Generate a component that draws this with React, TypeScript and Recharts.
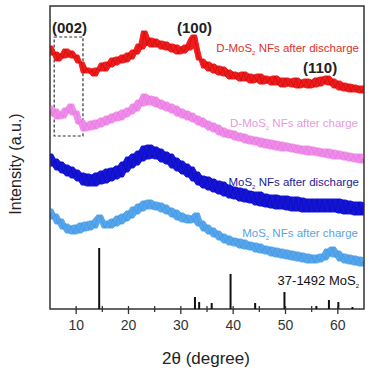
import React from 'react';
import {
  ComposedChart,
  Area,
  Line,
  XAxis,
  YAxis,
  ReferenceArea,
  ReferenceLine
} from 'recharts';

// 2θ sampling grid (degrees), 5..65 step 0.5
const twoTheta = Array.from({ length: 121 }, (_, i) => 5 + i * 0.5);

// intensities (a.u., stacked as plotted)
const dMosDischarge = [
  263, 254, 257, 248, 255, 251, 260, 252, 258, 251,
  254, 246, 247, 236, 241, 236, 240, 233, 241, 238,
  246, 238, 247, 242, 251, 244, 252, 246, 254, 247,
  256, 250, 259, 255, 265, 260, 278, 264, 271, 262,
  270, 262, 268, 260, 267, 259, 265, 257, 264, 255,
  262, 256, 264, 259, 270, 274, 261, 249, 250, 241,
  247, 238, 245, 236, 243, 234, 242, 233, 239, 230,
  237, 230, 236, 228, 237, 228, 235, 226, 234, 227,
  235, 225, 233, 226, 232, 224, 233, 224, 231, 222,
  231, 223, 230, 222, 231, 221, 229, 222, 230, 221,
  229, 222, 231, 223, 232, 225, 233, 224, 230, 221,
  228, 219, 226, 218, 225, 217, 224, 217, 223, 216,
  223
];
const dMosCharge = [
  203, 193, 200, 190, 197, 191, 201, 196, 205, 194,
  198, 185, 189, 178, 186, 179, 188, 180, 189, 182,
  191, 184, 193, 186, 195, 188, 197, 189, 199, 192,
  201, 195, 205, 198, 209, 203, 215, 204, 213, 204,
  212, 202, 209, 200, 207, 198, 205, 196, 203, 193,
  200, 191, 198, 189, 196, 187, 193, 184, 191, 182,
  188, 179, 186, 177, 184, 174, 181, 172, 179, 171,
  178, 169, 176, 168, 175, 166, 173, 165, 172, 164,
  171, 162, 170, 161, 169, 160, 168, 159, 167, 158,
  166, 158, 165, 157, 164, 156, 163, 155, 163, 154,
  162, 154, 161, 153, 160, 152, 160, 151, 159, 150,
  158, 150, 157, 149, 156, 148, 155, 147, 155, 146,
  154
];
const mosDischarge = [
  155, 143, 150, 139, 147, 136, 144, 133, 142, 131,
  139, 128, 136, 124, 135, 123, 134, 123, 136, 125,
  138, 126, 140, 128, 141, 130, 143, 132, 147, 137,
  152, 141, 155, 144, 158, 148, 163, 150, 164, 151,
  162, 150, 160, 147, 157, 145, 155, 141, 151, 138,
  148, 135, 145, 132, 142, 128, 137, 124, 133, 121,
  132, 119, 130, 117, 128, 115, 127, 113, 124, 111,
  122, 110, 121, 108, 120, 107, 118, 106, 117, 104,
  117, 103, 115, 102, 114, 101, 114, 100, 113, 100,
  113, 99, 112, 98, 112, 98, 111, 97, 110, 97,
  110, 97, 110, 97, 110, 97, 110, 97, 110, 97,
  110, 96, 109, 95, 108, 95, 107, 94, 107, 94,
  106
];
const mosCharge = [
  100, 90, 95, 85, 90, 80, 85, 76, 83, 75,
  84, 76, 86, 78, 87, 79, 88, 81, 91, 94,
  87, 81, 88, 81, 90, 83, 93, 85, 95, 88,
  98, 91, 102, 95, 105, 98, 108, 100, 109, 100,
  107, 99, 106, 97, 104, 95, 101, 92, 99, 89,
  96, 87, 94, 86, 93, 87, 96, 83, 88, 78,
  84, 75, 81, 72, 78, 69, 75, 66, 73, 64,
  71, 63, 70, 61, 69, 60, 67, 59, 66, 57,
  65, 56, 63, 55, 62, 53, 61, 52, 60, 51,
  59, 50, 58, 49, 57, 48, 56, 47, 55, 46,
  54, 46, 54, 47, 55, 49, 60, 53, 62, 52,
  58, 48, 55, 46, 54, 45, 53, 44, 52, 43,
  51
];

// JCPDS 37-1492 MoS2 reference sticks
const refPos = [14.4, 32.7, 33.5, 35.9, 39.5, 44.2, 49.8, 55.9, 58.3, 60.1, 62.8];
const refInt = [61, 12, 7, 6, 35, 6, 17, 3, 9, 7, 2];

const xTicks = [10, 15, 20, 25, 30, 35, 40, 45, 50, 55, 60];

// noise envelope of each trace (local min / max of neighbours)
const envelope = (arr: number[]) =>
  arr.map((_, i) => {
    const w = arr.slice(Math.max(0, i - 1), i + 2);
    return [Math.min(...w), Math.max(...w)];
  });

const envA = envelope(dMosDischarge);
const envB = envelope(dMosCharge);
const envC = envelope(mosDischarge);
const envD = envelope(mosCharge);

const data = twoTheta.map((t, i) => ({
  t,
  a: dMosDischarge[i],
  b: dMosCharge[i],
  c: mosDischarge[i],
  d: mosCharge[i],
  aBand: envA[i],
  bBand: envB[i],
  cBand: envC[i],
  dBand: envD[i]
}));

const series = [
  { key: 'd', band: 'dBand', fill: '#55a6ec', line: '#3b8fdc' },
  { key: 'c', band: 'cBand', fill: '#1414dc', line: '#0a0a9a' },
  { key: 'b', band: 'bBand', fill: '#f08cea', line: '#dd70d8' },
  { key: 'a', band: 'aBand', fill: '#f21a1a', line: '#a80c0c' }
];

const AngleTick = (props: any) => {
  const { x, y, payload } = props;
  const major = payload.value % 10 === 0;
  return (
    <g>
      <line x1={x} y1={y - 3} x2={x} y2={y + (major ? 5 : 3)} stroke="#333" strokeWidth={1.3} />
      {major && (
        <text x={x} y={y + 21} textAnchor="middle" fontSize={14} fill="#333">
          {payload.value}
        </text>
      )}
    </g>
  );
};

const Sub = ({ children }: { children: string }) => (
  <>
    <tspan fontSize={6} dy={3}>2</tspan>
    <tspan dy={-3}>{children}</tspan>
  </>
);

export default function App() {
  const font = 'Liberation Sans, Arial, sans-serif';
  return (
    <div style={{ position: 'absolute', left: 0, top: 0, background: '#fff' }}>
      <ComposedChart
        width={380}
        height={373}
        data={data}
        margin={{ top: 6, right: 16, left: 50, bottom: 34 }}
        style={{ fontFamily: font }}
      >
        <XAxis
          dataKey="t"
          type="number"
          domain={[5, 65]}
          ticks={xTicks}
          interval={0}
          axisLine={false}
          tickLine={false}
          tickSize={0}
          tickMargin={0}
          height={30}
          tick={<AngleTick />}
        />
        <YAxis type="number" domain={[0, 303]} hide />
        <ReferenceArea
          x1={5.8}
          x2={11.3}
          y1={173}
          y2={272}
          fill="none"
          stroke="#333"
          strokeWidth={1.2}
          strokeDasharray="3 2"
        />
        {series.map(s => (
          <Area
            key={s.band}
            dataKey={s.band}
            type="linear"
            stroke={s.fill}
            strokeWidth={1}
            fill={s.fill}
            fillOpacity={1}
            dot={false}
            activeDot={false}
            isAnimationActive={false}
          />
        ))}
        {series.map(s => (
          <Line
            key={s.key}
            dataKey={s.key}
            type="linear"
            stroke={s.line}
            strokeWidth={0.8}
            strokeOpacity={0.6}
            dot={false}
            isAnimationActive={false}
          />
        ))}
        {refPos.map((p, i) => (
          <ReferenceLine
            key={p}
            segment={[{ x: p, y: 0 }, { x: p, y: refInt[i] }]}
            stroke="#111"
            strokeWidth={2}
          />
        ))}
        <ReferenceArea x1={5} x2={65} y1={0} y2={303} fill="none" stroke="#333" strokeWidth={1.5} />

        <text x={52} y={33} fontSize={15} fontWeight="bold" fill="#222">(002)</text>
        <text x={177} y={33} fontSize={15} fontWeight="bold" fill="#222">(100)</text>
        <text x={303} y={73} fontSize={15} fontWeight="bold" fill="#222">(110)</text>
        <text x={359} y={52} fontSize={11.5} textAnchor="end" fill="#e0302a">
          D-MoS<Sub> NFs after discharge</Sub>
        </text>
        <text x={358} y={127} fontSize={11.5} textAnchor="end" fill="#e79ad9">
          D-MoS<Sub> NFs after charge</Sub>
        </text>
        <text x={359} y={186} fontSize={11.5} textAnchor="end" fill="#1c1c9c">
          MoS<Sub> NFs after discharge</Sub>
        </text>
        <text x={358} y={237} fontSize={11.5} textAnchor="end" fill="#5aa4e0">
          MoS<Sub> NFs after charge</Sub>
        </text>
        <text x={359} y={285} fontSize={13} textAnchor="end" fill="#111">
          37-1492 MoS<tspan fontSize={6} dy={3}>2</tspan>
        </text>
        <text x={21} y={164} fontSize={16} textAnchor="middle" fill="#222" transform="rotate(-90, 21, 164)">
          Intensity (a.u.)
        </text>
        <text x={206} y={364} fontSize={17} textAnchor="middle" fill="#222">
          2θ (degree)
        </text>
      </ComposedChart>
    </div>
  );
}
